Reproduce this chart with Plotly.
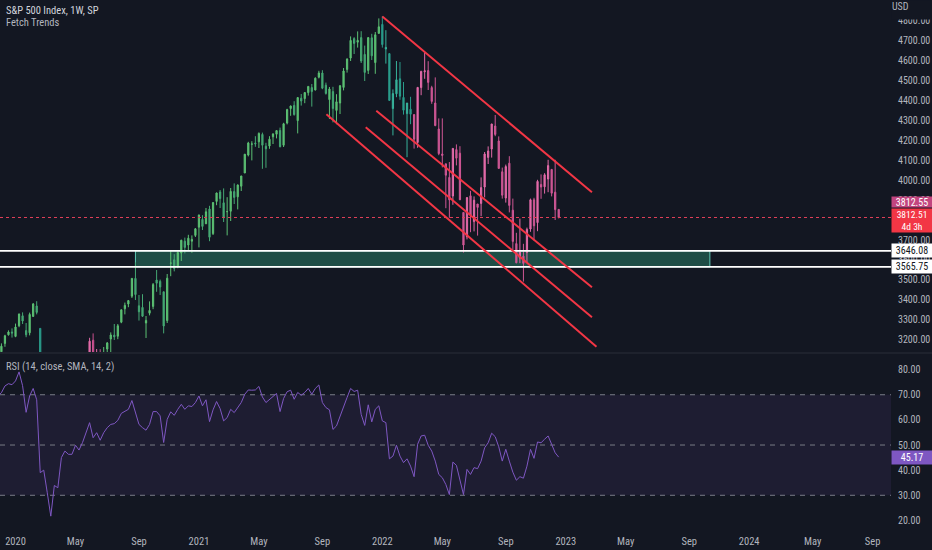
import plotly.graph_objects as go
import pandas as pd

# ---------------- data (weekly bars, week starting Monday) ----------------
weeks = pd.date_range("2019-12-02", periods=160, freq="7D")

open_px = [3143, 3141, 3183, 3226, 3240, 3218, 3271, 3321, 3247, 3236, 3318, 3370, 3258, 2974, 2864, 2508,
           2291, 2498, 2578, 2782, 2846, 2854, 2815, 2915, 2913, 3005, 3038, 3199, 2994, 3094, 3018, 3155,
           3205, 3224, 3219, 3289, 3356, 3380, 3419, 3508, 3371, 3363, 3285, 3334, 3368, 3500, 3493, 3441,
           3297, 3584, 3601, 3567, 3635, 3694, 3675, 3694, 3723, 3764, 3803, 3781, 3855, 3732, 3893, 3940,
           3886, 3842, 3844, 3942, 3916, 3969, 4035, 4125, 4179, 4185, 4191, 4228, 4169, 4170, 4216, 4229,
           4248, 4174, 4285, 4357, 4373, 4297, 4409, 4407, 4437, 4462, 4450, 4514, 4535, 4474, 4402, 4442,
           4348, 4385, 4463, 4553, 4610, 4707, 4689, 4712, 4628, 4548, 4711, 4587, 4733, 4778, 4655, 4632,
           4357, 4431, 4506, 4413, 4332, 4354, 4327, 4188, 4462, 4541, 4547, 4462, 4385, 4255, 4130, 4081,
           4013, 3920, 4152, 4134, 3838, 3716, 3921, 3792, 3880, 3883, 3965, 4113, 4155, 4270, 4195, 4041,
           3910, 4084, 3849, 3682, 3610, 3619, 3638, 3755, 3901, 3787, 3978, 3966, 4005, 4053, 3939, 3853]

high_px = [3154, 3183, 3226, 3248, 3258, 3282, 3332, 3338, 3285, 3337, 3385, 3394, 3260, 3137, 2882, 2562,
           2637, 2641, 2819, 2880, 2868, 2955, 2934, 2955, 2980, 3069, 3211, 3233, 3155, 3154, 3165, 3190,
           3238, 3280, 3280, 3352, 3387, 3400, 3509, 3588, 3425, 3429, 3320, 3393, 3485, 3550, 3502, 3441,
           3530, 3646, 3629, 3644, 3701, 3712, 3726, 3723, 3760, 3827, 3824, 3860, 3871, 3890, 3937, 3950,
           3958, 3914, 3960, 3983, 3978, 4021, 4130, 4191, 4194, 4219, 4238, 4237, 4186, 4219, 4234, 4249,
           4262, 4286, 4356, 4372, 4394, 4415, 4430, 4440, 4468, 4480, 4513, 4546, 4549, 4487, 4465, 4466,
           4429, 4475, 4560, 4608, 4718, 4714, 4743, 4744, 4672, 4713, 4731, 4740, 4808, 4819, 4749, 4632,
           4453, 4595, 4590, 4490, 4385, 4416, 4327, 4465, 4546, 4637, 4594, 4471, 4513, 4308, 4308, 4081,
           4090, 4159, 4178, 4169, 3838, 3914, 3946, 3918, 3880, 4013, 4140, 4168, 4281, 4325, 4218, 4062,
           4077, 4119, 3907, 3736, 3807, 3681, 3762, 3907, 3911, 4001, 4028, 4034, 4101, 4053, 4101, 3854]

low_px = [3070, 3124, 3166, 3222, 3212, 3214, 3264, 3280, 3214, 3223, 3315, 3328, 2856, 2902, 2479, 2281,
          2192, 2447, 2577, 2730, 2727, 2830, 2797, 2767, 2910, 2969, 3025, 2936, 2965, 3004, 3000, 3128,
          3128, 3200, 3204, 3284, 3328, 3364, 3410, 3400, 3297, 3315, 3210, 3323, 3354, 3441, 3425, 3233,
          3285, 3519, 3543, 3559, 3595, 3633, 3648, 3636, 3715, 3663, 3750, 3780, 3694, 3725, 3874, 3860,
          3790, 3723, 3795, 3880, 3853, 3945, 4035, 4118, 4098, 4166, 4160, 4056, 4061, 4156, 4180, 4208,
          4164, 4165, 4278, 4321, 4322, 4233, 4372, 4384, 4422, 4367, 4448, 4508, 4454, 4427, 4305, 4288,
          4279, 4330, 4448, 4537, 4595, 4630, 4662, 4585, 4495, 4530, 4600, 4531, 4733, 4662, 4582, 4395,
          4223, 4414, 4401, 4327, 4114, 4279, 4157, 4161, 4424, 4506, 4450, 4381, 4269, 4124, 4063, 3859,
          3811, 3876, 4073, 3900, 3637, 3703, 3739, 3743, 3722, 3819, 3913, 4080, 4112, 4219, 4057, 3907,
          3887, 3838, 3647, 3584, 3584, 3492, 3590, 3741, 3698, 3744, 3906, 3932, 3939, 3918, 3800, 3808]

close_px = [3146, 3169, 3221, 3240, 3235, 3265, 3330, 3295, 3226, 3328, 3380, 3338, 2954, 2972, 2711, 2305,
            2541, 2489, 2790, 2875, 2837, 2831, 2930, 2864, 2955, 3044, 3194, 3041, 3098, 3009, 3130, 3185,
            3225, 3216, 3271, 3351, 3373, 3397, 3508, 3427, 3341, 3319, 3298, 3348, 3477, 3484, 3465, 3270,
            3509, 3585, 3558, 3638, 3699, 3663, 3709, 3703, 3756, 3825, 3768, 3841, 3714, 3887, 3935, 3907,
            3811, 3842, 3943, 3913, 3975, 4020, 4129, 4185, 4180, 4181, 4233, 4174, 4156, 4204, 4230, 4247,
            4166, 4281, 4352, 4370, 4327, 4412, 4395, 4437, 4468, 4442, 4509, 4535, 4459, 4433, 4455, 4357,
            4391, 4471, 4545, 4605, 4698, 4683, 4698, 4595, 4538, 4712, 4621, 4726, 4766, 4677, 4663, 4398,
            4432, 4501, 4419, 4349, 4385, 4329, 4204, 4463, 4543, 4546, 4488, 4393, 4272, 4132, 4123, 4024,
            3901, 4158, 4109, 3901, 3675, 3912, 3825, 3899, 3863, 3962, 4130, 4145, 4280, 4228, 4058, 3924,
            4067, 3873, 3693, 3586, 3640, 3583, 3753, 3901, 3771, 3993, 3965, 4026, 4072, 3934, 3852, 3812.51]

rsi_vals = [69.5, 70.8, 73.5, 74.4, 74.0, 75.5, 79.1, 73.6, 63.0, 69.5, 72.5, 68.0, 39.0, 40.0, 31.0, 21.7,
            33.9, 33.0, 45.0, 47.6, 46.3, 46.3, 49.9, 48.0, 51.0, 54.7, 58.9, 52.9, 54.9, 51.9, 54.9, 56.9,
            58.2, 58.5, 59.8, 62.6, 63.3, 64.2, 67.7, 62.9, 58.2, 56.9, 55.9, 58.2, 63.3, 63.3, 61.6, 51.0,
            60.2, 63.2, 61.8, 64.2, 66.2, 64.2, 65.6, 65.3, 66.9, 69.5, 65.6, 68.0, 59.3, 64.0, 67.3, 64.5,
            59.6, 60.9, 64.2, 62.9, 64.9, 66.9, 70.2, 71.9, 71.8, 71.9, 73.3, 69.1, 66.9, 68.2, 69.5, 70.5,
            63.3, 68.5, 71.2, 71.8, 68.2, 70.9, 69.8, 70.9, 72.5, 70.2, 72.5, 73.9, 66.9, 64.9, 64.0, 56.2,
            57.6, 61.6, 65.6, 68.9, 72.5, 71.3, 71.8, 62.2, 57.8, 66.0, 59.2, 64.2, 65.6, 59.6, 58.9, 44.5,
            45.6, 49.9, 45.6, 43.0, 44.5, 41.6, 37.4, 50.3, 53.6, 53.9, 49.9, 47.6, 43.6, 38.3, 37.0, 34.3,
            30.3, 43.2, 41.9, 36.3, 30.3, 40.3, 38.3, 41.0, 40.6, 43.6, 48.9, 50.9, 54.7, 53.3, 49.3, 43.6,
            48.3, 43.6, 39.2, 36.0, 37.4, 36.8, 41.6, 48.3, 44.7, 51.2, 50.9, 52.3, 53.6, 50.3, 46.9, 45.17]

# trend phases of the "Fetch Trends" bar colouring: (first week, last week, up colour, down colour)
trend_phases = [
    ("2019-12-02", "2020-02-17", "#5cc073", "#45a873"),
    ("2020-02-24", "2020-05-26", "#38b39b", "#2a9c8b"),
    ("2020-06-01", "2020-06-22", "#e26aa8", "#c9508f"),
    ("2020-06-29", "2021-12-27", "#5cc073", "#45a873"),
    ("2022-01-03", "2022-02-28", "#38b39b", "#2a9c8b"),
    ("2022-03-07", "2022-12-19", "#e26aa8", "#cf5795"),
]

# drawings: channel lines (start date, start price, end date, end price)
chan_x0 = ["2022-01-03", "2021-09-14", "2021-12-22", "2021-12-01"]
chan_y0 = [4818, 4328.5, 4346.5, 4263.5]
chan_x1 = ["2023-02-23", "2023-03-04", "2023-02-23", "2023-02-23"]
chan_y1 = [3938.5, 3166.5, 3463.5, 3313.5]

zone_top = 3646.08
zone_bottom = 3565.75
zone_start = "2020-08-31"
zone_end = "2023-10-15"

last_close = close_px[-1]
trend_value = 3812.55
countdown = "4d 3h"
rsi_last = rsi_vals[-1]

price_ticks = list(range(3200, 4900, 100))
rsi_ticks = list(range(20, 90, 10))
time_tick_dates = ["2020-01-06", "2020-05-04", "2020-09-07", "2021-01-04", "2021-05-03", "2021-09-06",
                   "2022-01-03", "2022-05-02", "2022-09-05", "2023-01-02", "2023-05-01", "2023-09-04",
                   "2024-01-01", "2024-05-06", "2024-09-02"]
time_tick_text = ["2020", "May", "Sep", "2021", "May", "Sep", "2022", "May", "Sep", "2023", "May", "Sep",
                  "2024", "May", "Sep"]

# ---------------- styling ----------------
BG = "#131722"
TXT = "#b2b5be"
FONT = "Liberation Sans Narrow, Roboto Condensed, Roboto, sans-serif"
x_range = ["2019-12-06 04:25", "2024-10-08 12:00"]

df = pd.DataFrame({"d": weeks, "o": open_px, "h": high_px, "l": low_px, "c": close_px})

fig = go.Figure()
for start, end, cu, cd in trend_phases:
    seg = df[(df.d >= pd.Timestamp(start)) & (df.d <= pd.Timestamp(end))]
    fig.add_trace(go.Candlestick(
        x=seg.d, open=seg.o, high=seg.h, low=seg.l, close=seg.c,
        increasing=dict(line=dict(color=cu, width=1), fillcolor=cu),
        decreasing=dict(line=dict(color=cd, width=1), fillcolor=cd),
        whiskerwidth=0, xaxis="x", yaxis="y", hoverinfo="skip", showlegend=False))

fig.add_trace(go.Scatter(x=weeks, y=rsi_vals, mode="lines", line=dict(color="#7e57c2", width=1),
                         xaxis="x2", yaxis="y2", hoverinfo="skip", showlegend=False))

shapes = []
# RSI band and levels
shapes.append(dict(type="rect", xref="paper", x0=0, x1=1, yref="y2", y0=30, y1=70,
                   fillcolor="rgba(126,87,194,0.1)", line=dict(width=0), layer="below"))
for lv in (70, 50, 30):
    shapes.append(dict(type="line", xref="paper", x0=0, x1=1, yref="y2", y0=lv, y1=lv,
                       line=dict(color="#787b86", width=1, dash="5px,5px"), layer="below"))
# support zone
shapes.append(dict(type="rect", xref="x", x0=zone_start, x1=zone_end, yref="y", y0=zone_bottom, y1=zone_top,
                   fillcolor="#1e4d46", line=dict(color="#5fc9b6", width=1), layer="below"))
for lv in (zone_top, zone_bottom):
    shapes.append(dict(type="line", xref="paper", x0=0, x1=1, yref="y", y0=lv, y1=lv,
                       line=dict(color="#ffffff", width=1.8)))
# last price line
shapes.append(dict(type="line", xref="paper", x0=0, x1=1, yref="y", y0=last_close, y1=last_close,
                   line=dict(color="#e0405a", width=1, dash="dot")))
# channel
for a, b, c, d in zip(chan_x0, chan_y0, chan_x1, chan_y1):
    shapes.append(dict(type="line", xref="x", x0=a, x1=c, yref="y", y0=b, y1=d,
                       line=dict(color="#f23645", width=2)))
# pane separator
shapes.append(dict(type="line", xref="paper", x0=0, x1=1.05, yref="paper", y0=0.3377, y1=0.3377,
                   line=dict(color="#2a2e39", width=1)))

ann = []
ann.append(dict(text="S&P 500 Index, 1W, SP", xref="paper", yref="paper", x=0.005, y=0.981,
                xanchor="left", yanchor="middle", showarrow=False, font=dict(size=10.5, color="#d1d4dc", family=FONT)))
ann.append(dict(text="Fetch Trends", xref="paper", yref="paper", x=0.005, y=0.958,
                xanchor="left", yanchor="middle", showarrow=False, font=dict(size=10.5, color=TXT, family=FONT)))
ann.append(dict(text="RSI (14, close, SMA, 14, 2)", xref="paper", yref="paper", x=0.005, y=0.3133,
                xanchor="left", yanchor="middle", showarrow=False, font=dict(size=10.5, color=TXT, family=FONT)))
ann.append(dict(text="USD", xref="paper", yref="paper", x=1, y=1, xanchor="left", yanchor="top",
                width=38, height=18, align="left", valign="top", bgcolor=BG, borderpad=0, showarrow=False,
                font=dict(size=10, color=TXT, family=FONT)))


def box(txt, y, yref, bg, fg, yanchor="middle", yshift=0, height=11, size=10):
    return dict(text=txt, xref="paper", x=1, xanchor="left", yref=yref, y=y, yanchor=yanchor, yshift=yshift,
                width=38, height=height, align="center", valign="middle", bgcolor=bg, borderpad=1,
                showarrow=False, font=dict(size=size, color=fg, family=FONT))


ann.append(box(f"{trend_value:.2f}", last_close, "y", "#c2457f", "#ffffff", "bottom", 9, 8))
ann.append(box(f"{last_close:.2f}<br>{countdown}", last_close, "y", "#f23645", "#ffffff", "top", 9, 21, 9.5))
ann.append(box(f"{zone_top:.2f}", zone_top, "y", "#ffffff", "#131722"))
ann.append(box(f"{zone_bottom:.2f}", zone_bottom, "y", "#ffffff", "#131722"))
ann.append(box(f"{rsi_last:.2f}", rsi_last, "y2", "#7e57c2", "#ffffff"))

fig.update_layout(
    width=932, height=550, margin=dict(l=0, r=41, t=0, b=17),
    paper_bgcolor=BG, plot_bgcolor=BG, showlegend=False, boxgap=0.5,
    font=dict(family=FONT, color=TXT, size=10),
    xaxis=dict(domain=[0, 1], anchor="y", range=x_range, type="date", showgrid=False, zeroline=False,
               showticklabels=False, showline=False, rangeslider=dict(visible=False), automargin=False),
    yaxis=dict(domain=[0.3396, 1], anchor="x", range=[3140, 4900], side="right", showgrid=False,
               zeroline=False, tickvals=price_ticks, ticktext=[f"{v:.2f}" for v in price_ticks],
               ticks="", ticklabelstandoff=6, tickfont=dict(size=10, color=TXT, family=FONT), automargin=False),
    xaxis2=dict(domain=[0, 1], anchor="y2", matches="x", range=x_range, type="date", showgrid=False,
                zeroline=False, tickvals=time_tick_dates, ticktext=time_tick_text, ticks="",
                tickfont=dict(size=10.5, color=TXT, family=FONT), showline=False, automargin=False),
    yaxis2=dict(domain=[0, 0.3358], anchor="x2", range=[15, 86.2], side="right", showgrid=False,
                zeroline=False, tickvals=rsi_ticks, ticktext=[f"{v:.2f}" for v in rsi_ticks],
                ticks="", ticklabelstandoff=6, tickfont=dict(size=10, color=TXT, family=FONT), automargin=False),
    shapes=shapes, annotations=ann,
)

fig.write_html("out.html", config={"displayModeBar": False},
               post_script="document.body.style.margin='0';document.body.style.background='#131722';")
